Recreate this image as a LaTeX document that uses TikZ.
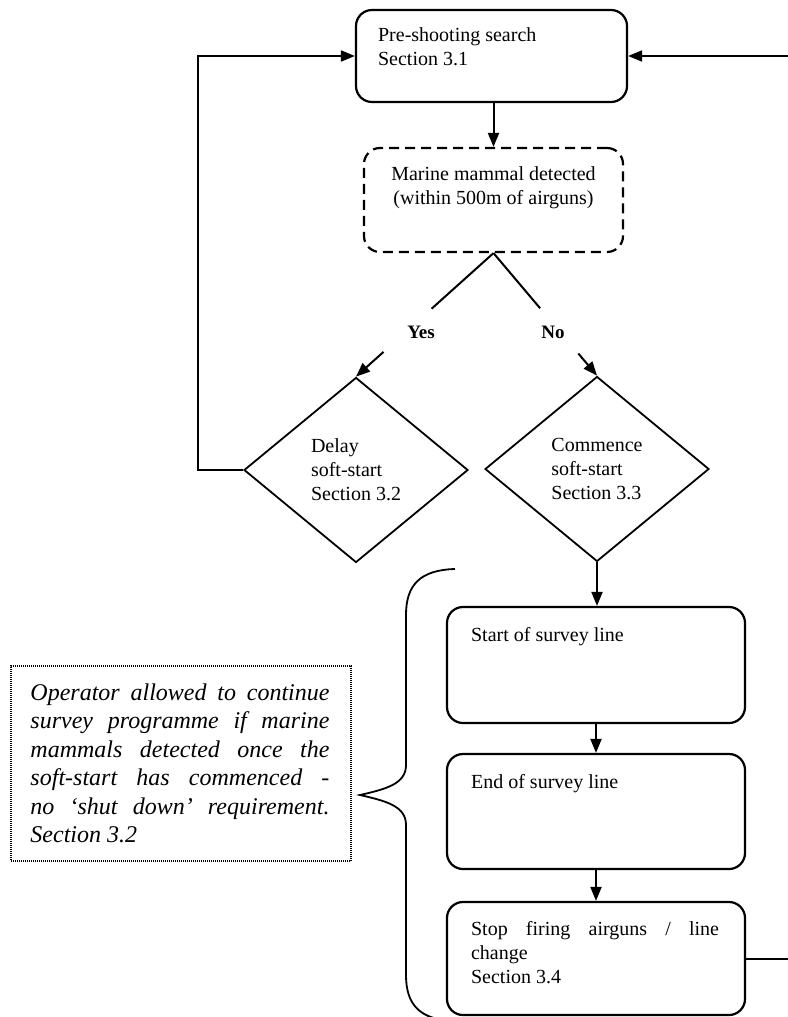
\documentclass[tikz,border=0pt]{standalone}
\usepackage{fontspec}
\setmainfont{Liberation Serif}
\usetikzlibrary{positioning,calc,shapes.geometric,arrows.meta}
\newcommand\bodyfont{\fontsize{20}{24}\selectfont}
\newcommand\notefont{\fontsize{24}{28.5}\selectfont\itshape}
\tikzset{
	flowbox/.style={draw, line width=2.2pt, rounded corners=16pt, inner sep=0pt},
	dashbox/.style={flowbox, dash pattern=on 10pt off 6pt},
	choice/.style={draw, diamond, line width=1.8pt, minimum width=224pt, minimum height=185pt, inner sep=0pt, font=\bodyfont, align=left},
	notebox/.style={draw, line width=1.4pt, dash pattern=on 1pt off 1pt, inner sep=0pt},
	txt/.style={inner sep=0pt, font=\bodyfont, align=left},
	lbl/.style={inner sep=0pt, font=\fontsize{19}{23}\selectfont\bfseries},
	arr/.style={line width=2pt, -{Triangle[length=14pt,width=11pt]}},
	plain/.style={line width=2pt}
}

\begin{document}
\begin{tikzpicture}[x=1pt, y=-1pt]
			%%%%% START %%%%%
			\useasboundingbox (0,0) rectangle (787,1017);
			
			\node[flowbox, minimum width=271pt, minimum height=92pt] (pre) at (491.5,56) {};
			\node[txt, below right=19pt and 23pt of pre.north west] (pretxt) {Pre-shooting search\\Section 3.1};
			
			\node[dashbox, minimum width=259pt, minimum height=104pt] (mam) at (493.5,200) {};
			\node[txt, align=center, below=20pt of mam.north] (mamtxt) {Marine mammal detected\\(within 500m of airguns)};
			
			\node[choice] (delay) at (356,470) {Delay\\soft-start\\Section 3.2};
			\node[choice] (comm) at (597,469) {Commence\\soft-start\\Section 3.3};
			
			\node[lbl] (yes) at (421,332) {Yes};
			\node[lbl] (no) at (553,332) {No};
			
			\node[flowbox, minimum width=298pt, minimum height=116pt] (startline) at (596,665) {};
			\node[txt, below right=21pt and 25pt of startline.north west] (starttxt) {Start of survey line};
			
			\node[flowbox, minimum width=298pt, minimum height=115pt] (endline) at (596,811.5) {};
			\node[txt, below right=21pt and 25pt of endline.north west] (endtxt) {End of survey line};
			
			\node[flowbox, minimum width=298pt, minimum height=113pt] (stopline) at (596,958.5) {};
			\node[txt, align=justify, text width=248pt, below right=20pt and 25pt of stopline.north west] (stoptxt) {Stop firing airguns / line\linebreak change\\Section 3.4};
			
			\node[notebox, minimum width=340pt, minimum height=195pt] (note) at (181,763.5) {};
			\node[txt, font=\notefont, align=justify, text width=299pt, below right=18pt and 20pt of note.north west] (notetxt) {Operator allowed to continue\linebreak survey programme if marine\linebreak mammals detected once the\linebreak soft-start has commenced -\linebreak no `shut down' requirement.\linebreak Section 3.2};
			
			% connectors
			\draw[arr] (pre.south -| mam.north) -- (mam.north);
			\draw[plain] (mam.south) -- ($(mam.south)!0.45!(delay.north)$);
			\draw[arr] ($(mam.south)!0.8!(delay.north)$) -- (delay.north);
			\draw[plain] (mam.south) -- ($(mam.south)!0.45!(comm.north)$);
			\draw[arr] ($(mam.south)!0.82!(comm.north)$) -- (comm.north);
			\draw[arr] (delay.west) -- ++(-45,0) |- (pre.west);
			\draw[arr] (comm.south) -- (comm.south |- startline.north);
			\draw[arr] (startline.south) -- (endline.north);
			\draw[arr] (endline.south) -- (stopline.north);
			\draw[arr] (stopline.east) -- ++(70,0) |- (pre.east);
			
			% brace
			\draw[line width=1.8pt] (455,569) .. controls (420,570) and (406,585) .. (406,615) -- (406,765)
				.. controls (406,784) and (386,789) .. (360,795)
				.. controls (386,801) and (406,806) .. (406,825) -- (406,975)
				.. controls (406,1005) and (420,1020) .. (455,1021);
			
			%%%%% END %%%%%
\end{tikzpicture}
\end{document}
